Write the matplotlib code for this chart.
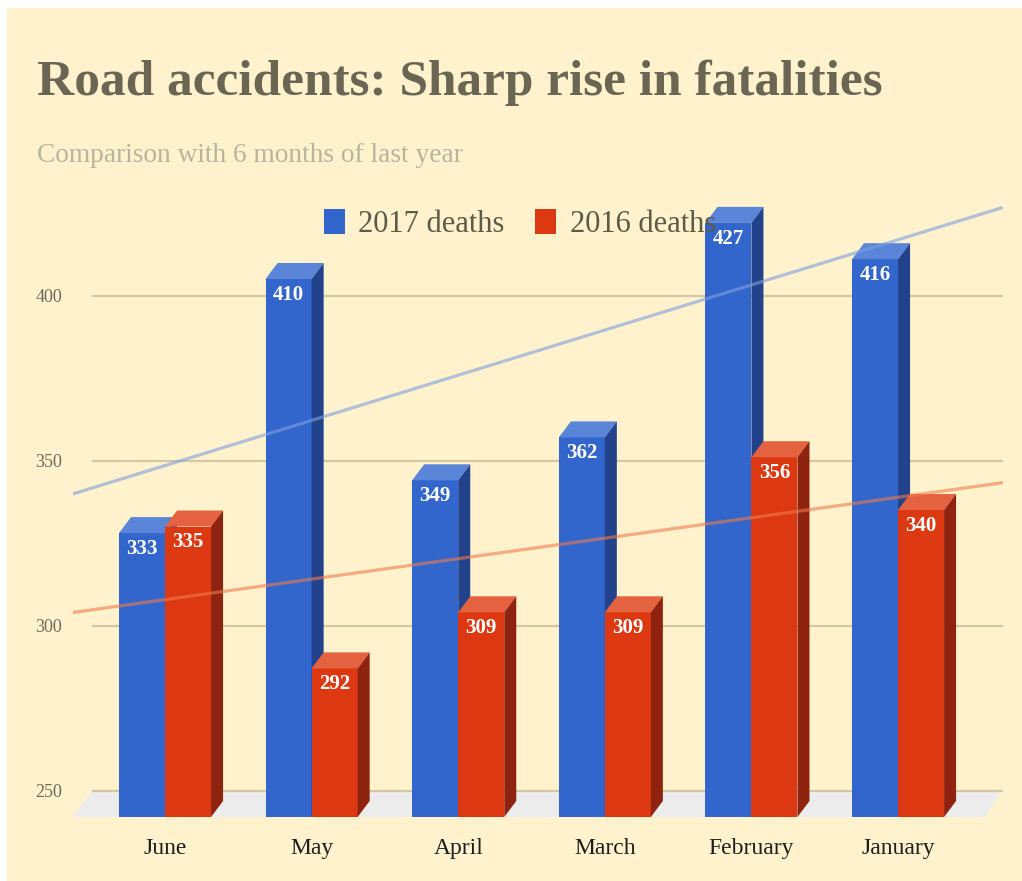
import numpy as np
import matplotlib
matplotlib.use("Agg")
import matplotlib.pyplot as plt
from matplotlib.patches import Rectangle, Polygon, Patch

# ---------------- data ----------------
months = ["June", "May", "April", "March", "February", "January"]
deaths_2017 = [333, 410, 349, 362, 427, 416]
deaths_2016 = [335, 292, 309, 309, 356, 340]
y_ticks = [250, 300, 350, 400]
series_labels = ["2017 deaths", "2016 deaths"]
title = "Road accidents: Sharp rise in fatalities"
subtitle = "Comparison with 6 months of last year"

# ---------------- style ----------------
FONT = "Liberation Serif"
plt.rcParams["font.family"] = [FONT, "DejaVu Serif"]
CREAM = "#fff2cc"
BLUE = ("#3366cc", "#5b85d8", "#22428c")   # front, top, side
RED = ("#dc3912", "#e4623f", "#8e2410")
W, H = 1022, 881

fig = plt.figure(figsize=(W / 100, H / 100), dpi=100)
fig.patch.set_facecolor("white")
fig.add_artist(Rectangle((7 / W, 0), 1 - 7 / W, 1 - 8 / H, transform=fig.transFigure,
                         facecolor=CREAM, edgecolor="none", zorder=-10))

ax = fig.add_axes([73 / W, 64 / H, 930 / W, 637 / H])
ax.set_facecolor("none")
for s in ax.spines.values():
    s.set_visible(False)

x0, x1 = -0.6276, 5.716
y0, y1 = 242.12, 435.15
ax.set_xlim(x0, x1)
ax.set_ylim(y0, y1)

# 3D depth offsets (data units)
DX, DY = 0.082, 4.85
BW = 0.314
GRID_X0 = -0.498

# floor
ax.add_patch(Polygon([(GRID_X0, y_ticks[0]), (5.709, y_ticks[0]), (5.593, y0), (x0, y0)],
                     closed=True, facecolor="#ececec", edgecolor="none", zorder=0.5))
# gridlines
ax.hlines(y_ticks, GRID_X0, x1, color="#d3c89f", lw=1.6, zorder=1)


def bar3d(xl, v, cols):
    front, top, side = cols
    ft = v - DY
    ax.add_patch(Rectangle((xl, y0), BW, ft - y0, facecolor=front, edgecolor="none", zorder=2))
    ax.add_patch(Polygon([(xl, ft), (xl + BW, ft), (xl + BW + DX, v), (xl + DX, v)],
                         closed=True, facecolor=top, edgecolor="none", zorder=2))
    ax.add_patch(Polygon([(xl + BW, y0), (xl + BW + DX, y0 + DY), (xl + BW + DX, v), (xl + BW, ft)],
                         closed=True, facecolor=side, edgecolor="none", zorder=2))
    ax.annotate(str(v), (xl + BW / 2, ft), xytext=(0, -11.5), textcoords="offset points",
                ha="center", va="center", color="white", fontsize=15, fontweight="bold",
                zorder=6)


xs = np.arange(len(months))
for i in xs:
    bar3d(i - BW, deaths_2017[i], BLUE)
    bar3d(i, deaths_2016[i], RED)

# trend lines
xx = np.array([x0, x1])
for vals, col in ((deaths_2017, "#7f9fe0"), (deaths_2016, "#f07a4c")):
    k, b = np.polyfit(xs, vals, 1)
    ax.plot(xx, k * xx + b, color=col, lw=2.3, alpha=0.6, zorder=5, solid_capstyle="butt")

# axes ticks
ax.set_yticks(y_ticks)
ax.set_yticklabels([str(t) for t in y_ticks])
ax.set_xticks(xs)
ax.set_xticklabels(months)
ax.tick_params(axis="y", length=0, pad=8, labelsize=13, labelcolor="#6e6a5a")
ax.tick_params(axis="x", length=0, pad=15, labelsize=17, labelcolor="#1e1e1e")

# legend
handles = [Patch(facecolor=BLUE[0]), Patch(facecolor=RED[0])]
fig.legend(handles, series_labels, loc="center", bbox_to_anchor=(520 / W, 1 - 224 / H),
           ncol=2, frameon=False, prop={"family": FONT, "size": 22},
           handlelength=0.68, handleheight=0.9, handletextpad=0.45, columnspacing=1.0,
           labelcolor="#5f5a48")

# titles
fig.text(37 / W, 1 - 95 / H, title, fontsize=37, fontweight="bold", color="#6b6654",
         family=FONT, va="baseline", ha="left")
fig.text(37 / W, 1 - 162 / H, subtitle, fontsize=19.7, color="#b9b49e",
         family=FONT, va="baseline", ha="left")

fig.savefig("out.png", dpi=100)
